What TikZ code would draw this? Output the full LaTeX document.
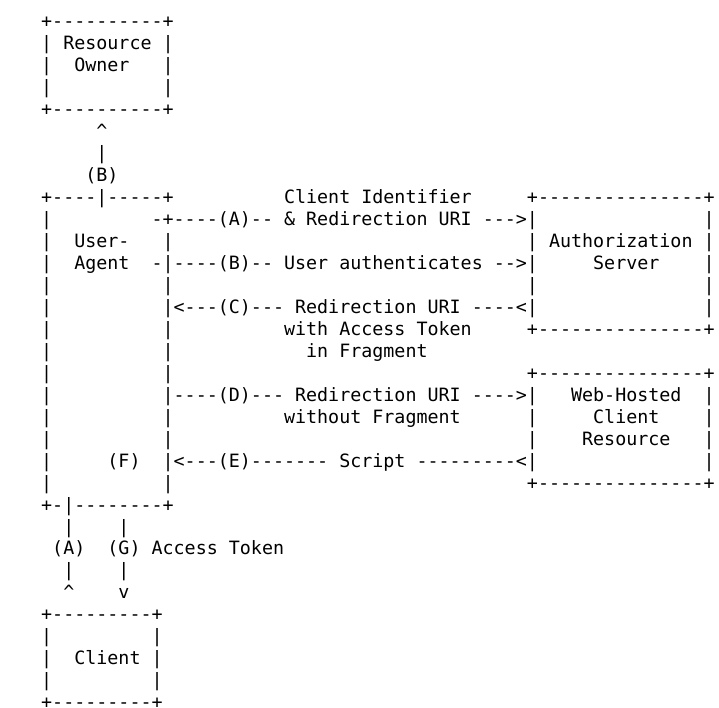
\documentclass[tikz,border=0pt]{standalone}
\usepackage{fontspec}
\newfontfamily\asc{DejaVu Sans Mono}[Ligatures=TeXOff]
\frenchspacing
\newcount\segno
\tikzset{txt/.style={anchor=base west,inner sep=0pt,outer sep=0pt,
  font=\asc\fontsize{13.755pt}{16.5pt}\selectfont}}
\newcommand\seg[3]{\global\advance\segno by 1\relax
  \node[txt] (s\the\segno) at ({-14.0+11.04*#2},{27.7+21.97*#1}) {#3};}
\begin{document}
\begin{tikzpicture}[x=0.75pt,y=-0.75pt]
\fill[white] (0,0) rectangle (719,708);
\useasboundingbox (0,0) rectangle (719,708);
% Resource Owner
\seg{0}{5}{+----------+}
\seg{1}{5}{| Resource |}
\seg{2}{5}{|}\seg{2}{8}{Owner}\seg{2}{16}{|}
\seg{3}{5}{|}\seg{3}{16}{|}
\seg{4}{5}{+----------+}
\seg{5}{10}{\textasciicircum}
\seg{6}{10}{|}
\seg{7}{9}{(B)}
% User-Agent and servers
\seg{8}{5}{+----|-----+}\seg{8}{27}{Client Identifier}\seg{8}{49}{+---------------+}
\seg{9}{5}{|}\seg{9}{15}{-+----(A)-- \& Redirection URI --->|}\seg{9}{65}{|}
\seg{10}{5}{|}\seg{10}{8}{User-}\seg{10}{16}{|}\seg{10}{49}{| Authorization |}
\seg{11}{5}{|}\seg{11}{8}{Agent}\seg{11}{15}{-|----(B)-- User authenticates -->|}\seg{11}{55}{Server}\seg{11}{65}{|}
\seg{12}{5}{|}\seg{12}{16}{|}\seg{12}{49}{|}\seg{12}{65}{|}
\seg{13}{5}{|}\seg{13}{16}{|<---(C)--- Redirection URI ----<|}\seg{13}{65}{|}
\seg{14}{5}{|}\seg{14}{16}{|}\seg{14}{27}{with Access Token}\seg{14}{49}{+---------------+}
\seg{15}{5}{|}\seg{15}{16}{|}\seg{15}{29}{in Fragment}
\seg{16}{5}{|}\seg{16}{16}{|}\seg{16}{49}{+---------------+}
\seg{17}{5}{|}\seg{17}{16}{|----(D)--- Redirection URI ---->|}\seg{17}{53}{Web-Hosted}\seg{17}{65}{|}
\seg{18}{5}{|}\seg{18}{16}{|}\seg{18}{27}{without Fragment}\seg{18}{49}{|}\seg{18}{55}{Client}\seg{18}{65}{|}
\seg{19}{5}{|}\seg{19}{16}{|}\seg{19}{49}{|}\seg{19}{54}{Resource}\seg{19}{65}{|}
\seg{20}{5}{|}\seg{20}{11}{(F)}\seg{20}{16}{|<---(E)------- Script ---------<|}\seg{20}{65}{|}
\seg{21}{5}{|}\seg{21}{16}{|}\seg{21}{49}{+---------------+}
\seg{22}{5}{+-|--------+}
% Client links
\seg{23}{7}{|}\seg{23}{12}{|}
\seg{24}{6}{(A)}\seg{24}{11}{(G) Access Token}
\seg{25}{7}{|}\seg{25}{12}{|}
\seg{26}{7}{\textasciicircum}\seg{26}{12}{v}
% Client
\seg{27}{5}{+---------+}
\seg{28}{5}{|}\seg{28}{15}{|}
\seg{29}{5}{|}\seg{29}{8}{Client}\seg{29}{15}{|}
\seg{30}{5}{|}\seg{30}{15}{|}
\seg{31}{5}{+---------+}
\end{tikzpicture}
\end{document}
